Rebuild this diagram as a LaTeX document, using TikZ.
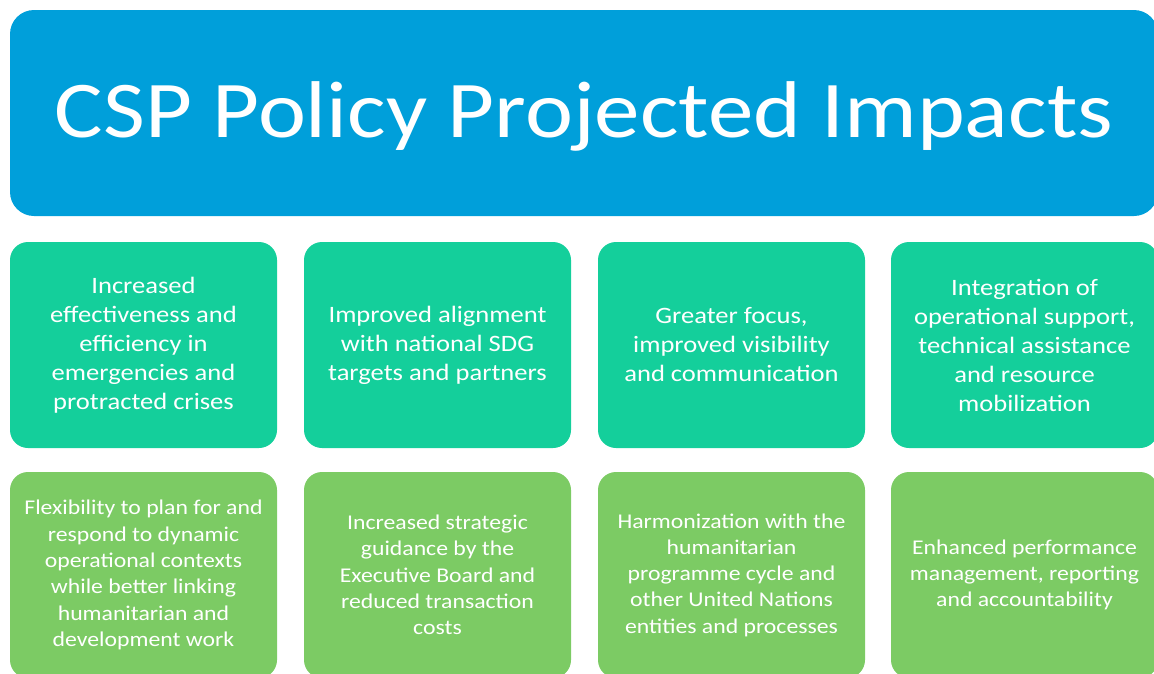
\documentclass[tikz,border=0pt]{standalone}
\usepackage{fontspec}
\setmainfont{Carlito}[FakeStretch=1.13]
\definecolor{topblue}{RGB}{0,159,218}
\definecolor{teal}{RGB}{20,207,155}
\definecolor{leaf}{RGB}{124,203,100}
\tikzset{
  titlebox/.style={fill=topblue, rounded corners=24pt, minimum width=1148pt, minimum height=206pt, text=white, inner sep=0pt},
  titletext/.style={text=white, font=\fontsize{80.5}{90}\selectfont, inner sep=0pt},
  rowone/.style={fill=teal, rounded corners=18pt, minimum width=267pt, minimum height=206pt, text=white, align=center, font=\fontsize{23.5}{29}\selectfont, inner sep=0pt},
  rowtwo/.style={fill=leaf, rounded corners=18pt, minimum width=267pt, minimum height=206pt, text=white, align=center, font=\fontsize{21}{26.3}\selectfont, inner sep=0pt}
}
\begin{document}
\begin{tikzpicture}[x=1pt,y=-1pt]
\useasboundingbox (0,0) rectangle (1154,673);
\clip (0,0) rectangle (1154,673);
\node[titlebox] (title) at (584,113) {};
\node[titletext] (titlelabel) at (584,116) {CSP Policy Projected Impacts};
\node[rowone] (a1) at (143.5,345) {Increased\\effectiveness and\\efficiency in\\emergencies and\\protracted crises};
\node[rowone] (a2) at (437.5,345) {Improved alignment\\with national SDG\\targets and partners};
\node[rowone] (a3) at (731.5,345) {Greater focus,\\improved visibility\\and communication};
\node[rowone] (a4) at (1024.5,345) {Integration of\\operational support,\\technical assistance\\and resource\\mobilization};
\node[rowtwo] (b1) at (143.5,575) {Flexibility to plan for and\\respond to dynamic\\operational contexts\\while better linking\\humanitarian and\\development work};
\node[rowtwo] (b2) at (437.5,575) {Increased strategic\\guidance by the\\Executive Board and\\reduced transaction\\costs};
\node[rowtwo] (b3) at (731.5,575) {Harmonization with the\\humanitarian\\programme cycle and\\other United Nations\\entities and processes};
\node[rowtwo] (b4) at (1024.5,575) {Enhanced performance\\management, reporting\\and accountability};
\end{tikzpicture}
\end{document}
